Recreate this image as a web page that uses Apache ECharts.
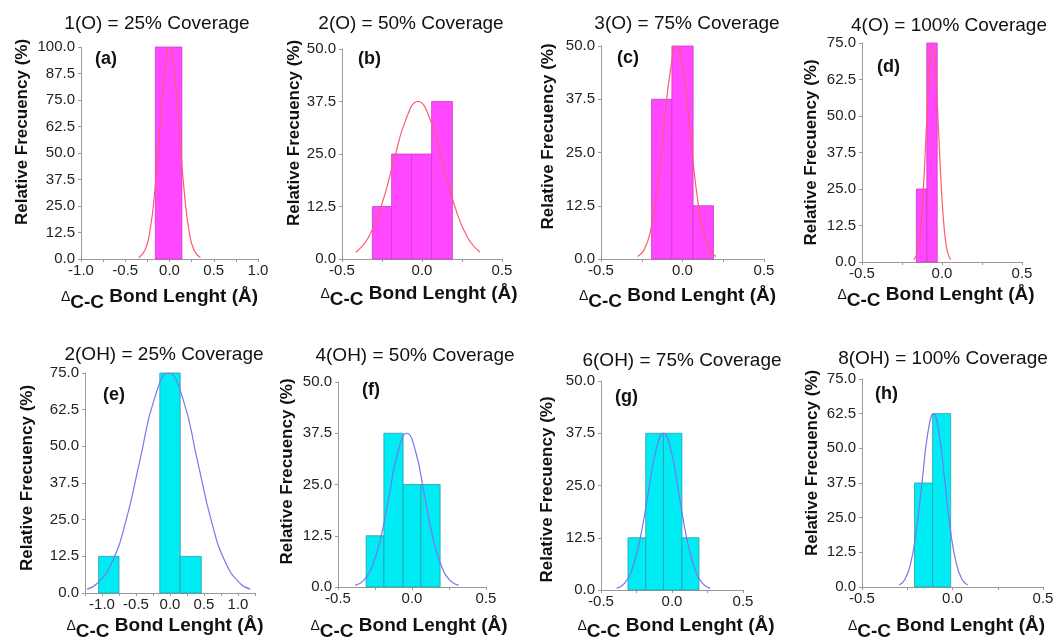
<!DOCTYPE html>
<html>
<head>
<meta charset="utf-8">
<script src="https://cdn.jsdelivr.net/npm/echarts@6/dist/echarts.min.js"></script>
<style>
  html, body { margin: 0; padding: 0; background: #fff; }
  #chart { width: 1058px; height: 642px; }
</style>
</head>
<body>
<div id="chart"></div>
<script>
const titles = [
  '1(O) = 25% Coverage', '2(O) = 50% Coverage', '3(O) = 75% Coverage', '4(O) = 100% Coverage',
  '2(OH) = 25% Coverage', '4(OH) = 50% Coverage', '6(OH) = 75% Coverage', '8(OH) = 100% Coverage'
]
const letters = ['(a)', '(b)', '(c)', '(d)', '(e)', '(f)', '(g)', '(h)']
const yMax = [100, 50, 50, 75, 75, 50, 50, 75]
const xMin = [-1, -0.5, -0.5, -0.5, -1.25, -0.5, -0.5, -0.5]
const xMax = [1, 0.5, 0.5, 0.5, 1.25, 0.5, 0.5, 0.5]

// histogram bins: [from, to, relative frequency %]
const binsA = [[-0.16, 0.14, 100]]
const binsB = [[-0.31, -0.19, 12.5], [-0.19, -0.065, 25], [-0.065, 0.06, 25], [0.06, 0.19, 37.5]]
const binsC = [[-0.19, -0.065, 37.5], [-0.065, 0.065, 50], [0.065, 0.19, 12.5]]
const binsD = [[-0.16, -0.095, 25], [-0.095, -0.03, 75]]
const binsE = [[-1.05, -0.75, 12.5], [-0.15, 0.15, 75], [0.15, 0.46, 12.5]]
const binsF = [[-0.31, -0.19, 12.5], [-0.19, -0.06, 37.5], [-0.06, 0.06, 25], [0.06, 0.19, 25]]
const binsG = [[-0.31, -0.185, 12.5], [-0.185, -0.06, 37.5], [-0.06, 0.07, 37.5], [0.07, 0.19, 12.5]]
const binsH = [[-0.21, -0.11, 37.5], [-0.11, -0.01, 62.5]]

// fitted curves, points: [x, y]
const fitA = [[-0.35, 0.6], [-0.275, 4.4], [-0.22, 13.5], [-0.165, 32.5], [-0.11, 60.7], [-0.055, 88.2], [0, 100],
  [0.055, 88.2], [0.11, 60.7], [0.165, 32.5], [0.22, 13.5], [0.275, 4.4], [0.35, 0.6]]
const fitB = [[-0.413, 1.6], [-0.335, 5.1], [-0.258, 12.2], [-0.18, 22.7], [-0.103, 33.0], [-0.025, 37.5],
  [0.053, 33.0], [0.13, 22.7], [0.208, 12.2], [0.285, 5.1], [0.363, 1.6]]
const fitC = [[-0.275, 0.6], [-0.235, 2.2], [-0.195, 6.8], [-0.155, 16.2], [-0.115, 30.3], [-0.075, 44.1], [-0.035, 50],
  [0.005, 44.1], [0.045, 30.3], [0.085, 16.2], [0.125, 6.8], [0.165, 2.2], [0.205, 0.6]]
const fitD = [[-0.174, 0.8], [-0.155, 3.3], [-0.136, 10.2], [-0.117, 24.4], [-0.098, 45.5], [-0.079, 66.2], [-0.06, 75],
  [-0.041, 66.2], [-0.022, 45.5], [-0.003, 24.4], [0.016, 10.2], [0.035, 3.3], [0.054, 0.8]]
const fitE = [[-1.22, 1.3], [-1.07, 3.3], [-0.86, 10.2], [-0.65, 24.4], [-0.44, 45.5], [-0.23, 66.2], [-0.02, 75],
  [0.19, 66.2], [0.40, 45.5], [0.61, 24.4], [0.82, 10.2], [1.03, 3.3], [1.18, 1.3]]
const fitF = [[-0.385, 0.4], [-0.325, 1.7], [-0.269, 5.1], [-0.21, 12.2], [-0.152, 22.8], [-0.094, 33.1], [-0.035, 37.5],
  [0.024, 33.1], [0.082, 22.8], [0.14, 12.2], [0.199, 5.1], [0.255, 1.7], [0.315, 0.4]]
const fitG = [[-0.39, 0.4], [-0.335, 1.6], [-0.28, 5.1], [-0.225, 12.2], [-0.17, 22.7], [-0.115, 33.1], [-0.06, 37.5],
  [-0.005, 33.1], [0.05, 22.7], [0.105, 12.2], [0.16, 5.1], [0.215, 1.6], [0.27, 0.4]]
const fitH = [[-0.294, 0.7], [-0.263, 2.7], [-0.231, 8.5], [-0.2, 20.3], [-0.168, 37.9], [-0.137, 55.2], [-0.105, 62.5],
  [-0.074, 55.2], [-0.042, 37.9], [-0.011, 20.3], [0.021, 8.5], [0.053, 2.7], [0.084, 0.7]]

const bins = [binsA, binsB, binsC, binsD, binsE, binsF, binsG, binsH]
const fits = [fitA, fitB, fitC, fitD, fitE, fitF, fitG, fitH]

// layout: [left, top, width, height] of each plot box
const boxes = [
  [81, 47, 177, 212], [342, 49, 160, 210], [601, 46, 163, 213], [862, 43, 160, 219],
  [85, 373, 170, 221], [338, 382, 148, 213], [601, 381, 142, 214], [862, 379, 181, 213]
]
const titlePos = [[152, 9], [406, 9], [682, 9], [944, 11], [159, 340], [410, 341], [677, 346], [938, 344]]
const letterPos = [[90, 45], [353, 45], [612, 44], [872, 53], [98, 381], [357, 376], [610, 383], [870, 380]]
const yNameGap = [50, 38, 44, 42, 49, 42, 45, 41]
const yNameUp = [21, 21, 16, 0, 5, 13, -4, 20]
const xNameLeft = [10, 3, 5, 6, 5, 3, -4, 6]
const xNameGap = [23, 20, 22, 18, 18, 24, 21, 24]

const FONT = 'Liberation Sans, Arial, sans-serif'
const AXIS = '#9a9a9a'

const title = []
const grid = []
const xAxis = []
const yAxis = []
const series = []

bins.forEach((binData, i) => {
  const top = i < 4
  const fill = top ? '#ff48ff' : '#00ecf4'
  const edge = top ? '#c83cc8' : '#2a9ea8'
  const curve = top ? '#ff5a70' : '#7a76ee'
  const [l, t, w, h] = boxes[i]

  title.push({
    text: titles[i], left: titlePos[i][0], top: titlePos[i][1], textAlign: 'center',
    textStyle: { fontFamily: FONT, fontSize: 19, fontWeight: 'normal', color: '#111' }
  })
  title.push({
    text: letters[i], left: letterPos[i][0], top: letterPos[i][1],
    textStyle: { fontFamily: FONT, fontSize: 18, fontWeight: 'bold', color: '#111' }
  })

  grid.push({ left: l, top: t, width: w, height: h })

  const up = yNameUp[i]
  const xl = xNameLeft[i]
  xAxis.push({
    type: 'value', gridIndex: i, min: xMin[i], max: xMax[i], interval: 0.25,
    name: '{d|Δ}{s|C-C}{b| Bond Lenght (Å)}',
    nameLocation: 'middle', nameGap: xNameGap[i],
    nameTextStyle: {
      padding: xl >= 0 ? [0, 2 * xl, 0, 0] : [0, 0, 0, -2 * xl],
      rich: {
        d: { fontFamily: FONT, fontSize: 14, color: '#111', lineHeight: 28, verticalAlign: 'middle' },
        s: { fontFamily: FONT, fontSize: 19, fontWeight: 'bold', color: '#111', lineHeight: 20, verticalAlign: 'bottom' },
        b: { fontFamily: FONT, fontSize: 19, fontWeight: 'bold', color: '#111', lineHeight: 30, verticalAlign: 'middle' }
      }
    },
    axisLine: { onZero: false, lineStyle: { color: AXIS } },
    axisTick: { length: 3, lineStyle: { color: AXIS } },
    splitLine: { show: false },
    axisLabel: {
      fontFamily: FONT, fontSize: 15, color: '#222', margin: 4,
      formatter: v => Math.abs(v * 2 - Math.round(v * 2)) < 1e-6 ? (Math.round(v * 10) / 10).toFixed(1) : ''
    }
  })

  yAxis.push({
    type: 'value', gridIndex: i, min: 0, max: yMax[i], interval: 12.5,
    name: 'Relative Frecuency (%)', nameLocation: 'middle', nameRotate: 90, nameGap: yNameGap[i],
    nameTextStyle: {
      fontFamily: FONT, fontSize: 17, fontWeight: 'bold', color: '#111',
      padding: up >= 0 ? [0, 0, 0, 2 * up] : [0, -2 * up, 0, 0]
    },
    axisLine: { show: true, onZero: false, lineStyle: { color: AXIS } },
    axisTick: { show: true, length: 3, lineStyle: { color: AXIS } },
    splitLine: { show: false },
    axisLabel: { fontFamily: FONT, fontSize: 15, color: '#222', margin: 6, formatter: v => v.toFixed(1) }
  })

  series.push({
    type: 'custom', xAxisIndex: i, yAxisIndex: i, data: binData, z: 2, silent: true,
    encode: { x: [0, 1], y: 2 },
    renderItem: (params, api) => {
      const p0 = api.coord([api.value(0), api.value(2)])
      const p1 = api.coord([api.value(1), 0])
      return {
        type: 'rect',
        shape: { x: p0[0], y: p0[1], width: p1[0] - p0[0], height: p1[1] - p0[1] },
        style: { fill: fill, stroke: edge, lineWidth: 0.8 }
      }
    }
  })

  series.push({
    type: 'line', xAxisIndex: i, yAxisIndex: i, data: fits[i], z: 3, silent: true,
    smooth: true, showSymbol: false, symbol: 'none',
    lineStyle: { color: curve, width: 1.2 }
  })
})

const chart = echarts.init(document.getElementById('chart'))
chart.setOption({ animation: false, backgroundColor: '#fff', title, grid, xAxis, yAxis, series })
</script>
</body>
</html>
